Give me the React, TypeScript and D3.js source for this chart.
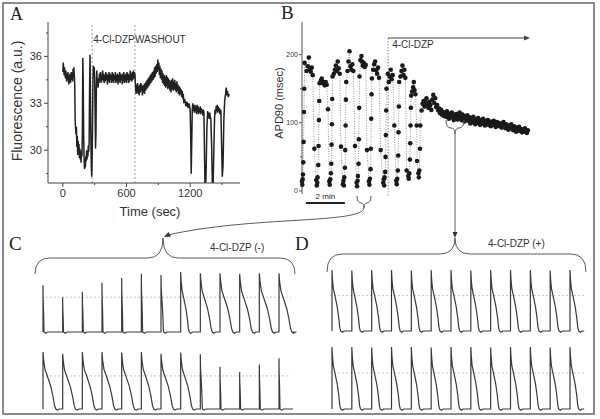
import React from "react";
import * as d3 from "d3";

const W = 600;
const H = 419;
const SANS = "'Liberation Sans', Arial, sans-serif";
const SERIF = "'Liberation Serif', 'Times New Roman', serif";

// ---- panel A: fluorescence vs time (sec, a.u.)
const fluorTrace: [number, number][] = [
  [0, 35.0], [4, 35.6], [8, 35.2], [12, 34.8], [16, 35.3], [20, 34.9], [24, 34.6], [28, 35.1],
  [32, 34.7], [36, 34.4], [40, 34.9], [44, 34.6], [48, 35.0], [52, 34.5], [56, 34.2], [60, 34.8],
  [64, 34.4], [68, 34.9], [72, 34.3], [76, 34.7], [80, 35.0], [84, 34.5], [88, 34.9], [92, 34.4],
  [96, 35.2], [100, 34.6], [104, 35.3], [108, 34.8], [112, 34.2], [116, 32.0], [120, 31.4],
  [124, 31.0], [128, 31.5], [132, 30.2], [136, 30.9], [140, 29.7], [144, 30.6], [148, 29.8],
  [152, 30.4], [156, 29.5], [160, 30.1], [164, 29.4], [168, 29.9], [172, 29.2], [176, 30.0],
  [180, 29.6], [184, 31.0], [188, 35.9], [192, 34.5], [196, 31.0], [200, 29.5], [204, 28.8],
  [208, 29.2], [212, 28.9], [216, 29.6], [220, 29.3], [224, 30.0], [228, 29.4], [232, 29.8],
  [236, 29.6], [240, 30.3], [244, 29.9], [248, 30.5], [252, 34.0], [256, 36.1], [260, 33.5],
  [264, 31.0], [268, 29.0], [272, 28.3], [276, 29.5], [280, 31.5], [284, 34.6], [288, 35.4],
  [292, 34.8], [296, 35.3], [300, 34.6], [304, 32.5], [308, 30.1], [312, 31.0], [316, 34.0],
  [320, 35.1], [324, 34.2], [328, 34.6], [332, 34.0], [336, 34.4],
  [340, 34.3], [345, 34.9], [350, 34.4], [355, 35.0], [360, 34.3], [365, 34.8], [370, 34.5],
  [375, 35.1], [380, 34.4], [385, 34.9], [390, 34.3], [395, 34.8], [400, 34.4], [405, 35.0],
  [410, 34.5], [415, 34.9], [420, 34.2], [425, 34.8], [430, 34.4], [435, 35.0], [440, 34.3],
  [445, 34.9], [450, 34.5], [455, 34.8], [460, 34.3], [465, 35.0], [470, 34.4], [475, 34.9],
  [480, 34.3], [485, 34.8], [490, 34.5], [495, 35.0], [500, 34.3], [505, 34.8], [510, 34.4],
  [515, 34.9], [520, 34.2], [525, 34.8], [530, 34.4], [535, 35.0], [540, 34.3], [545, 34.9],
  [550, 34.5], [555, 34.8], [560, 34.2], [565, 34.9], [570, 34.4], [575, 35.0], [580, 34.3],
  [585, 34.8], [590, 34.4], [595, 34.9], [600, 34.3], [605, 35.0], [610, 34.5], [615, 34.9],
  [620, 34.3], [625, 34.8], [630, 34.4], [635, 35.1], [640, 34.5], [645, 34.9], [650, 34.4],
  [655, 35.0], [660, 34.5], [665, 35.1], [670, 34.6], [675, 35.0], [680, 34.8],
  [685, 34.1], [690, 33.6], [695, 34.2], [700, 33.7], [705, 34.3], [710, 33.6], [715, 34.1],
  [720, 33.5], [725, 34.2], [730, 33.7], [735, 34.3], [740, 33.8], [745, 34.2], [750, 33.5],
  [755, 34.1], [760, 33.7], [765, 34.2], [770, 33.6], [775, 34.3], [780, 33.8], [785, 34.4],
  [790, 33.9], [795, 34.5], [800, 34.0], [805, 34.6], [810, 34.1], [815, 34.7], [820, 34.2],
  [825, 34.8], [830, 34.3], [835, 34.9], [840, 34.4], [845, 35.0], [850, 34.5], [855, 35.1],
  [860, 34.6], [865, 35.3], [870, 34.7], [875, 35.4], [880, 34.9], [885, 35.5], [890, 35.0],
  [895, 35.8], [900, 35.1], [905, 35.6], [910, 34.8], [915, 35.4], [920, 34.6], [925, 35.2],
  [930, 34.5], [935, 35.1], [940, 34.3], [945, 34.9], [950, 34.2], [955, 34.8], [960, 34.1],
  [965, 34.7], [970, 34.0], [975, 34.8], [980, 34.1], [985, 34.7], [990, 33.9], [995, 34.6],
  [1000, 34.0], [1005, 34.5], [1010, 33.8], [1015, 34.4], [1020, 33.7], [1025, 34.5], [1030, 33.9],
  [1035, 34.6], [1040, 33.8], [1045, 34.4], [1050, 33.9], [1055, 34.5], [1060, 33.8], [1065, 34.3],
  [1070, 33.7], [1075, 34.4], [1080, 33.8], [1085, 34.2], [1090, 33.6], [1095, 34.1], [1100, 33.5],
  [1105, 34.0], [1110, 33.6], [1115, 33.9], [1120, 33.4], [1125, 33.8], [1130, 33.3], [1135, 33.6],
  [1140, 33.1], [1150, 33.2], [1160, 32.8], [1170, 33.1], [1180, 32.7], [1190, 33.0], [1200, 32.6],
  [1205, 31.0], [1210, 28.5], [1215, 30.5], [1220, 32.6], [1225, 33.0], [1230, 32.5], [1235, 32.9],
  [1240, 32.4], [1245, 32.9], [1250, 32.5], [1255, 32.8], [1260, 32.3], [1265, 32.9], [1270, 32.4],
  [1275, 32.8], [1280, 32.3], [1285, 32.7], [1290, 32.4], [1295, 32.8], [1300, 32.3], [1305, 32.7],
  [1310, 32.4], [1315, 32.6], [1320, 32.2], [1325, 32.6], [1330, 32.4], [1335, 30.0], [1340, 27.6],
  [1346, 27.6], [1350, 28.5], [1358, 31.5], [1365, 32.5], [1370, 32.1], [1375, 32.4], [1380, 32.0],
  [1385, 32.4], [1390, 32.1], [1395, 32.0], [1402, 30.5], [1410, 27.6], [1416, 27.6], [1422, 29.5],
  [1430, 32.0], [1435, 32.6], [1440, 32.3], [1445, 32.8], [1450, 32.5], [1455, 32.9], [1460, 32.4],
  [1465, 32.8], [1470, 32.5], [1475, 32.7], [1480, 32.3], [1485, 32.6], [1490, 32.5], [1496, 30.5],
  [1503, 28.3], [1510, 29.0], [1518, 32.0], [1526, 33.2], [1534, 33.6], [1540, 34.0], [1546, 33.5],
  [1552, 33.8], [1560, 33.4], [1568, 33.6],
];
const fluorTicks = [30, 33, 36];
const fluorMinor = [28.5, 31.5, 34.5, 37.5];
const timeTicks = [0, 600, 1200];
const timeMinor = [300, 900, 1500];
const drugOnA = 276;
const washA = 680;

// ---- panel B: APD90 (msec) vs time (sec)
const apdPoints: [number, number][] = [
  [0, 14], [1, 9], [2, 17], [3, 24], [4, 42], [5, 72], [6, 116], [7, 150], [8, 188],
  [14, 176], [18, 183], [21, 196], [24, 178], [27, 175], [30, 181], [33, 170], [38, 62],
  [44, 16], [45.5, 8], [47, 12], [48, 20], [50, 38], [51, 66], [52, 104], [53, 132], [54, 158],
  [58, 162], [61, 165], [64, 158], [67, 160], [70, 155], [73, 160], [76, 156], [80, 120],
  [84, 14], [85.5, 9], [87, 17], [89, 26], [90, 40], [91, 68], [92, 98], [93, 135], [94, 168],
  [98, 172], [101, 178], [104, 184], [107, 176], [110, 190], [113, 180], [116, 172], [120, 65],
  [126, 10], [127.5, 15], [129, 8], [130, 20], [132, 34], [133, 60], [134, 96], [135, 134], [136, 160],
  [140, 176], [143, 190], [146, 205], [149, 183], [152, 178], [155, 186], [158, 176], [163, 66],
  [168, 12], [169.5, 7], [171, 15], [172, 22], [174, 40], [175, 76], [176, 122], [177, 168],
  [180, 192], [183, 198], [185, 190], [187, 184], [190, 188], [193, 182], [196, 185], [200, 60],
  [206, 14], [207.5, 9], [209, 18], [211, 32], [212, 62], [213, 106], [214, 142], [215, 165],
  [219, 178], [222, 186], [225, 190], [228, 177], [231, 172], [234, 181], [237, 166], [242, 60],
  [250, 12], [251.5, 17], [253, 8], [254, 20], [256, 28], [257, 50], [258, 82], [259, 118], [260, 150],
  [264, 172], [267, 160], [270, 168], [273, 178], [276, 164], [279, 170], [284, 96],
  [290, 15], [291.5, 10], [293, 18], [295, 30], [296, 52], [297, 86], [298, 124], [299, 160],
  [303, 168], [306, 176], [309, 184], [312, 170], [315, 178], [318, 166], [322, 30],
  [327, 22], [328.5, 18], [330, 26], [332, 46], [333, 70], [334, 96], [335, 122], [336, 140],
  [339, 146], [342, 152], [344, 160], [346, 148], [349, 142], [353, 96], [354, 44],
  [358, 26], [359.5, 20], [361, 30], [363, 62], [364, 96],
  [368, 118], [371, 128], [374, 132], [377, 124], [380, 130], [383, 136], [386, 127], [389, 122],
  [392, 131], [395, 126], [398, 119], [401, 134], [404, 141], [407, 129], [410, 136], [413, 123],
  [416, 126], [419, 118], [422, 121], [425, 114], [428, 119], [431, 112], [434, 116], [437, 110],
  [440, 114], [443, 109], [446, 117], [449, 111], [452, 106], [455, 113], [458, 108], [461, 115],
  [464, 110], [467, 104], [470, 112], [473, 107], [476, 113], [479, 105], [482, 110], [485, 115],
  [488, 108], [491, 104], [494, 112], [497, 107], [500, 102], [503, 110], [506, 105], [509, 111],
  [512, 103], [515, 108], [518, 99], [521, 106], [524, 101], [527, 109], [530, 104], [533, 98],
  [536, 105], [539, 100], [542, 107], [545, 102], [548, 97], [551, 104], [554, 99], [557, 106],
  [560, 101], [563, 96], [566, 103], [569, 98], [572, 104], [575, 97], [578, 102], [581, 95],
  [584, 101], [587, 97], [590, 103], [593, 98], [596, 94], [599, 101], [602, 96], [605, 100],
  [608, 95], [611, 99], [614, 93], [617, 97], [620, 101], [623, 96], [626, 92], [629, 98],
  [632, 94], [635, 90], [638, 96], [641, 92], [644, 98], [647, 93], [650, 89], [653, 95],
  [656, 91], [659, 87], [662, 93], [665, 89], [668, 94], [671, 88], [674, 91], [677, 86],
  [680, 90], [683, 87], [686, 92], [689, 88], [692, 85], [695, 89],
];
const apdTicks = [0, 100, 200];
const apdMinor = [50, 150];
const drugOnB = 265;

// ---- panels C / D: action potential rows (APD ms, amplitude %)
const BCL = 230;
const cTopApd = [12, 10, 12, 12, 14, 16, 30, 100, 140, 150, 150, 155, 150];
const cTopAmp = [78, 58, 67, 82, 90, 97, 95, 100, 98, 98, 97, 98, 98];
const cBotApd = [150, 150, 150, 150, 150, 145, 145, 140, 25, 12, 12, 12, 12];
const cBotAmp = [100, 97, 100, 100, 99, 100, 97, 99, 96, 74, 65, 78, 89];
const dTopApd = [100, 98, 102, 100, 99, 101, 100, 98, 102, 100, 99, 101, 100];
const dTopAmp = [100, 99, 100, 100, 99, 100, 100, 99, 100, 100, 100, 99, 100];
const dBotApd = [101, 100, 99, 102, 100, 98, 101, 100, 99, 101, 100, 99, 100];
const dBotAmp = [100, 100, 99, 100, 100, 99, 100, 100, 99, 100, 100, 99, 100];
// normalized AP waveform: [fraction of APD, fraction of amplitude]
const apShape: [number, number][] = [
  [0, 0], [0, 1], [0.05, 0.86], [0.15, 0.7], [0.35, 0.57], [0.6, 0.4], [0.78, 0.22], [0.9, 0.06], [1, 0],
];

function apPath(apds: number[], amps: number[], x: d3.ScaleLinear<number, number>, y: d3.ScaleLinear<number, number>) {
  const pts: [number, number][] = [];
  apds.forEach((apd, i) => {
    const t0 = i * BCL;
    apShape.forEach(([f, v]) => pts.push([t0 + f * apd, v * amps[i]]));
    pts.push([t0 + apd + 20, -2]);
    pts.push([t0 + apd + 40, 0]);
  });
  pts.push([(apds.length - 1) * BCL + 165, 0]);
  return d3.line<[number, number]>().x(d => x(d[0])).y(d => y(d[1]))(pts) || "";
}

export default function App() {
  const ax = d3.scaleLinear().domain([-140, 1670]).range([48, 240]);
  const ay = d3.scaleLinear().domain([27.9, 38.2]).range([183, 22]);
  const aLine = d3.line<[number, number]>().x(d => ax(d[0])).y(d => ay(d[1]));

  const bx = d3.scaleLinear().domain([0, 700]).range([302, 302 + 700 * 0.325]);
  const by = d3.scaleLinear().domain([-3, 248]).range([193, 22]);
  const bLine = d3.line<[number, number]>().x(d => bx(d[0])).y(d => by(d[1]));

  const cx = d3.scaleLinear().domain([0, 12 * BCL]).range([43, 279]);
  const dx = d3.scaleLinear().domain([0, 12 * BCL]).range([332, 570]);
  const cy1 = d3.scaleLinear().domain([0, 100]).range([332, 272]);
  const cy2 = d3.scaleLinear().domain([0, 100]).range([409, 352]);
  const dy1 = d3.scaleLinear().domain([0, 100]).range([331, 270]);
  const dy2 = d3.scaleLinear().domain([0, 100]).range([409, 347]);

  const traceColor = "#3a3a3a";
  const braceColor = "#5a5a5a";

  return (
    <svg width={W} height={H} viewBox={`0 0 ${W} ${H}`} style={{ display: "block", background: "#fff" }}>
      <style>{`body{margin:0;overflow:hidden}`}</style>
      <defs>
        <clipPath id="clipA"><rect x={48} y={20} width={195} height={163} /></clipPath>
      </defs>
      <rect x={3} y={3} width={591} height={411} fill="none" stroke="#666" strokeWidth={1.5} />

      {/* ---------- Panel A ---------- */}
      <text x={10} y={20} fontFamily={SERIF} fontSize={18} fill="#222">A</text>
      <line x1={ax(drugOnA)} x2={ax(drugOnA)} y1={25} y2={183} stroke="#999" strokeDasharray="2,2" />
      <line x1={ax(washA)} x2={ax(washA)} y1={25} y2={183} stroke="#999" strokeDasharray="2,2" />
      <text x={ax(drugOnA) + 1} y={43} fontFamily={SANS} fontSize={10} fill="#333">4-Cl-DZP</text>
      <text x={ax(washA)} y={43} fontFamily={SANS} fontSize={10} fill="#333">WASHOUT</text>
      <path d={aLine(fluorTrace) || ""} fill="none" stroke="#222" strokeWidth={1.5} clipPath="url(#clipA)" />
      <line x1={48} x2={48} y1={ay.range()[1]} y2={183} stroke="#444" />
      <line x1={48} x2={240} y1={183} y2={183} stroke="#444" />
      {fluorTicks.map(v => (
        <g key={"fy" + v}>
          <line x1={44} x2={48} y1={ay(v)} y2={ay(v)} stroke="#444" />
          <text x={42} y={ay(v) + 4} textAnchor="end" fontFamily={SANS} fontSize={11} fill="#333">{v}</text>
        </g>
      ))}
      {fluorMinor.map(v => (
        <line key={"fm" + v} x1={46} x2={48} y1={ay(v)} y2={ay(v)} stroke="#444" />
      ))}
      {timeTicks.map(v => (
        <g key={"tx" + v}>
          <line x1={ax(v)} x2={ax(v)} y1={183} y2={187} stroke="#444" />
          <text x={ax(v)} y={197} textAnchor="middle" fontFamily={SANS} fontSize={11} fill="#333">{v}</text>
        </g>
      ))}
      {timeMinor.map(v => (
        <line key={"tm" + v} x1={ax(v)} x2={ax(v)} y1={183} y2={185} stroke="#444" />
      ))}
      <text x={150} y={216} textAnchor="middle" fontFamily={SANS} fontSize={13} fill="#333">Time (sec)</text>
      <text transform="translate(22,101) rotate(-90)" textAnchor="middle" fontFamily={SANS} fontSize={14} fill="#333">Fluorescence (a.u.)</text>

      {/* ---------- Panel B ---------- */}
      <text x={281} y={19} fontFamily={SERIF} fontSize={19} fill="#222">B</text>
      <line x1={302} x2={302} y1={22} y2={194} stroke="#555" />
      {apdTicks.map(v => (
        <g key={"by" + v}>
          <line x1={299} x2={302} y1={by(v)} y2={by(v)} stroke="#555" />
          <text x={298} y={by(v) + 2.5} textAnchor="end" fontFamily={SANS} fontSize={7} fill="#333">{v}</text>
        </g>
      ))}
      {apdMinor.map(v => (
        <line key={"bm" + v} x1={300} x2={302} y1={by(v)} y2={by(v)} stroke="#555" />
      ))}
      <text transform="translate(283,103) rotate(-90)" textAnchor="middle" fontFamily={SANS} fontSize={11} fill="#333">APD90 (msec)</text>
      <line x1={bx(drugOnB)} x2={bx(drugOnB)} y1={38} y2={197} stroke="#888" strokeDasharray="1.5,1.5" />
      <line x1={bx(drugOnB)} x2={527} y1={38} y2={38} stroke="#444" strokeWidth={1} />
      <path d="M530,38 L524,35.5 L524,40.5 Z" fill="#444" />
      <text x={bx(drugOnB) + 4} y={48} fontFamily={SANS} fontSize={10} fill="#333">4-Cl-DZP</text>
      <path d={bLine(apdPoints) || ""} fill="none" stroke="#777" strokeWidth={0.8} strokeDasharray="1,1.5" />
      {apdPoints.map((d, i) => (
        <circle key={"p" + i} cx={bx(d[0])} cy={by(d[1])} r={2.3} fill="#1a1a1a" />
      ))}
      <line x1={bx(12)} x2={bx(132)} y1={203} y2={203} stroke="#222" strokeWidth={2} />
      <text x={bx(72)} y={199} textAnchor="middle" fontFamily={SANS} fontSize={8} fill="#222">2 min</text>

      {/* braces in B and arrows to C / D */}
      <path d="M357,196 Q357,203 361,203 Q364,203 364,208 Q364,203 367,203 Q371,203 371,196" fill="none" stroke={braceColor} />
      <path d="M364,208 C362,224 250,216 168,235" fill="none" stroke={braceColor} />
      <path d="M164,237 L171,236.5 L168.5,232 Z" fill="#333" />
      <path d="M446,120 Q446,128 451,128 Q455,128 455,134 Q455,128 459,128 Q464,128 464,120" fill="none" stroke={braceColor} />
      <line x1={455} x2={455} y1={134} y2={233} stroke={braceColor} />
      <path d="M455,238 L452.5,232 L457.5,232 Z" fill="#333" />

      {/* ---------- Panel C ---------- */}
      <text x={9} y={250} fontFamily={SERIF} fontSize={19} fill="#222">C</text>
      <path d="M35,274 Q35,258 50,258 L148,258 Q163,258 163,238 Q163,258 178,258 L280,258 Q295,258 295,274" fill="none" stroke={braceColor} />
      <text x={210} y={251} fontFamily={SANS} fontSize={10} fill="#333">4-Cl-DZP (-)</text>
      <line x1={42} x2={291} y1={cy1(58)} y2={cy1(58)} stroke="#c8c8c8" strokeDasharray="2,2" />
      <line x1={42} x2={291} y1={cy2(58)} y2={cy2(58)} stroke="#c8c8c8" strokeDasharray="2,2" />
      <path d={apPath(cTopApd, cTopAmp, cx, cy1)} fill="none" stroke={traceColor} strokeWidth={1.2} />
      <path d={apPath(cBotApd, cBotAmp, cx, cy2)} fill="none" stroke={traceColor} strokeWidth={1.2} />

      {/* ---------- Panel D ---------- */}
      <text x={295} y={250} fontFamily={SERIF} fontSize={19} fill="#222">D</text>
      <path d="M327,272 Q327,254 342,254 L440,254 Q455,254 455,238 Q455,254 470,254 L571,254 Q586,254 586,272" fill="none" stroke={braceColor} />
      <text x={488} y={247} fontFamily={SANS} fontSize={10} fill="#333">4-Cl-DZP (+)</text>
      <line x1={330} x2={584} y1={dy1(58)} y2={dy1(58)} stroke="#c8c8c8" strokeDasharray="2,2" />
      <line x1={330} x2={584} y1={dy2(58)} y2={dy2(58)} stroke="#c8c8c8" strokeDasharray="2,2" />
      <path d={apPath(dTopApd, dTopAmp, dx, dy1)} fill="none" stroke={traceColor} strokeWidth={1.2} />
      <path d={apPath(dBotApd, dBotAmp, dx, dy2)} fill="none" stroke={traceColor} strokeWidth={1.2} />
    </svg>
  );
}
